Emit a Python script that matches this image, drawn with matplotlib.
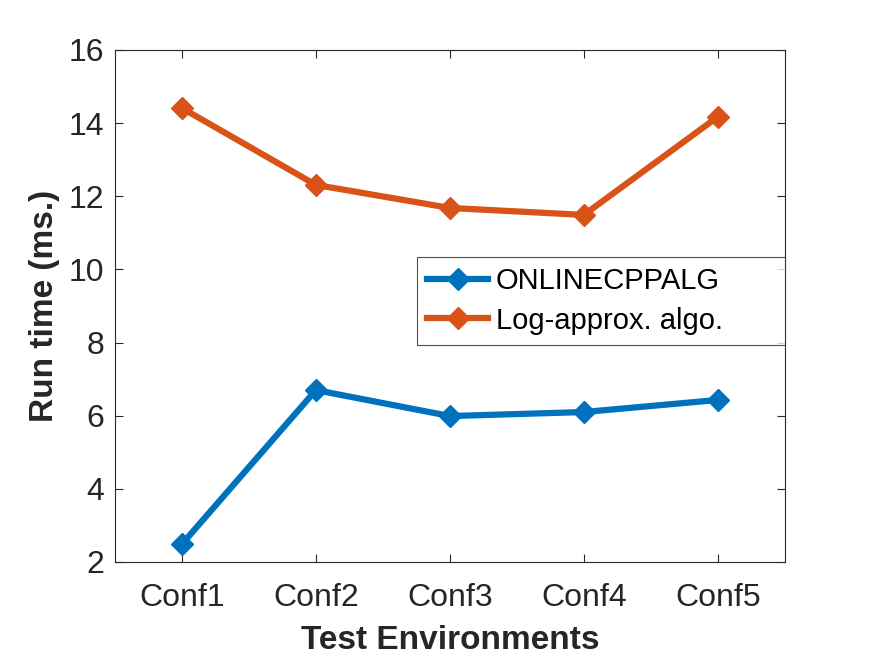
import matplotlib
matplotlib.use("Agg")
import matplotlib.pyplot as plt

categories = ["Conf1", "Conf2", "Conf3", "Conf4", "Conf5"]
online = [2.49, 6.70, 5.99, 6.10, 6.43]
logapprox = [14.41, 12.31, 11.68, 11.49, 14.17]
yticks = [2, 4, 6, 8, 10, 12, 14, 16]

plt.rcParams['font.family'] = ['Liberation Sans', 'DejaVu Sans']
fig = plt.figure(figsize=(8.8, 6.61), dpi=100)
ax = fig.add_axes([0.1307, 0.1498, 0.761, 0.7746])
x = list(range(1, len(categories) + 1))
ax.plot(x, online, color='#0072BD', lw=4.5, marker='D', ms=11, label='ONLINECPPALG')
ax.plot(x, logapprox, color='#D95319', lw=4.5, marker='D', ms=11, label='Log-approx. algo.')
ax.set_xlim(0.5, 5.5)
ax.set_ylim(2, 16)
ax.set_xticks(x)
ax.set_xticklabels(categories)
ax.set_yticks(yticks)
ax.tick_params(direction='in', labelsize=23, colors='#262626', length=6, top=True, right=True)
ax.tick_params(axis='x', pad=15)
ax.tick_params(axis='y', pad=8)
for s in ax.spines.values():
    s.set_color('#262626')
    s.set_linewidth(0.8)
ax.set_xlabel('Test Environments', fontsize=24, fontweight='bold', color='#262626', labelpad=9)
ax.set_ylabel('Run time (ms.)', fontsize=24, fontweight='bold', color='#262626', labelpad=6)
leg = ax.legend(loc='upper left', bbox_to_anchor=(0.4507, 0.43, 0.5493, 0.166), mode='expand',
                fontsize=21, frameon=True,
                fancybox=False, edgecolor='#262626', borderaxespad=0, handlelength=2.1,
                handletextpad=0.25, borderpad=0.35, labelspacing=0.4)
leg.get_frame().set_linewidth(0.8)
fig.savefig('out.png', dpi=100)
